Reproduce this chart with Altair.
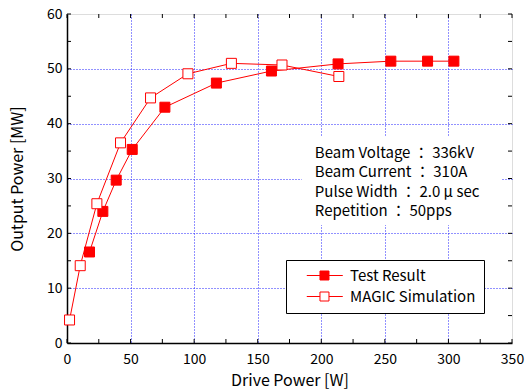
import altair as alt
import pandas as pd

# Test Result (filled squares)
test_x = [17.7, 28.2, 38.7, 51.3, 77.0, 117.5, 160.8, 213.2, 254.7, 283.6, 304.3]
test_y = [16.6, 24.0, 29.7, 35.3, 43.0, 47.4, 49.6, 50.9, 51.4, 51.4, 51.4]
# MAGIC Simulation (open squares)
magic_x = [2.0, 10.4, 23.5, 42.1, 65.7, 95.1, 129.3, 169.1, 213.8]
magic_y = [4.2, 14.1, 25.4, 36.5, 44.7, 49.1, 51.0, 50.7, 48.6]

series_names = ["Test Result", "MAGIC Simulation"]
x_ticks = [0, 50, 100, 150, 200, 250, 300, 350]
y_ticks = [0, 10, 20, 30, 40, 50, 60]
x_minor = list(range(0, 351, 25))
y_minor = list(range(0, 61, 5))

notes = ["Beam Voltage \uff1a 336kV", "Beam Current \uff1a 310A",
         "Pulse Width \uff1a 2.0 \u03bc sec", "Repetition \uff1a 50pps"]
note_y = [34.7, 31.1, 27.6, 24.1]

FONT = "Noto Sans CJK JP"
W, H = 445, 329

rows = []
for i, (x, y) in enumerate(zip(test_x, test_y)):
    rows.append({"series": series_names[0], "x": x, "y": y, "o": i})
for i, (x, y) in enumerate(zip(magic_x, magic_y)):
    rows.append({"series": series_names[1], "x": x, "y": y, "o": i})
df = pd.DataFrame(rows)

xs = alt.Scale(domain=[0, 350], nice=False, zero=False)
ys = alt.Scale(domain=[0, 60], nice=False, zero=False)

grid_hide = {"condition": {"test": "datum.value == 0 || datum.value == 350 || datum.value == 60", "value": 0}, "value": 1}

x_axis = alt.Axis(values=x_ticks, title="Drive Power [W]", tickSize=0, labelPadding=9,
                  labelFontSize=14, titleFontSize=16, titlePadding=6, labelFont=FONT, titleFont=FONT,
                  labelColor="black", titleColor="black", titleFontWeight="normal",
                  domainColor="black", domainWidth=1.5, grid=True, gridColor="#2222ff",
                  gridDash=[1, 2], gridWidth=1, gridOpacity=grid_hide, labelFlush=False)
y_axis = alt.Axis(values=y_ticks, title="Output Power [MW]", tickSize=0, labelPadding=5,
                  labelFontSize=14, titleFontSize=16, titlePadding=21, labelFont=FONT, titleFont=FONT,
                  labelColor="black", titleColor="black", titleFontWeight="normal",
                  domainColor="black", domainWidth=1.5, grid=True, gridColor="#2222ff",
                  gridDash=[1, 2], gridWidth=1, gridOpacity=grid_hide, labelFlush=False)

base = alt.Chart(df)

lines = base.mark_line(color="red", strokeWidth=1).encode(
    x=alt.X("x:Q", scale=xs, axis=x_axis),
    y=alt.Y("y:Q", scale=ys, axis=y_axis),
    detail="series:N",
    order="o:Q",
)

legend = alt.Legend(
    title=None, orient="none", legendX=219, legendY=246, direction="vertical",
    symbolType="M0.88,0H3.08M4.58,0H6.88M3.08,-0.75H4.58V0.75H3.08Z",
    symbolSize=144, symbolStrokeColor="red", symbolStrokeWidth=1,
    labelFont=FONT, labelFontSize=15, labelColor="black", labelOffset=41,
    rowPadding=5, padding=8, strokeColor="black", fillColor="white",
    labelExpr="datum.label + '\u00a0\u00a0\u00a0\u00a0\u00a0\u00a0\u00a0\u00a0\u00a0\u00a0\u00a0'",
)

points = base.mark_square(size=100, stroke="red", strokeWidth=1, opacity=1, fillOpacity=1).encode(
    x=alt.X("x:Q", scale=xs),
    y=alt.Y("y:Q", scale=ys),
    fill=alt.Fill("series:N", scale=alt.Scale(domain=series_names, range=["red", "white"]),
                  legend=legend, sort=series_names),
)

# inward ticks
tx = pd.DataFrame({"v": x_minor})
ty = pd.DataFrame({"v": y_minor})
tick_len_x = 4 / (H / 60)
tick_len_y = 4 / (W / 350)
bt = alt.Chart(tx).mark_rule(color="black", strokeWidth=1).encode(
    x=alt.X("v:Q", scale=xs), y=alt.datum(0, scale=ys), y2=alt.datum(tick_len_x))
tt = alt.Chart(tx).mark_rule(color="black", strokeWidth=1).encode(
    x=alt.X("v:Q", scale=xs), y=alt.datum(60, scale=ys), y2=alt.datum(60 - tick_len_x))
lt = alt.Chart(ty).mark_rule(color="black", strokeWidth=1).encode(
    y=alt.Y("v:Q", scale=ys), x=alt.datum(0, scale=xs), x2=alt.datum(tick_len_y))
rt = alt.Chart(ty).mark_rule(color="black", strokeWidth=1).encode(
    y=alt.Y("v:Q", scale=ys), x=alt.datum(350, scale=xs), x2=alt.datum(350 - tick_len_y))

box_df = pd.DataFrame({"x": [184.6], "x2": [342.0], "y": [21.5], "y2": [37.6]})
box = alt.Chart(box_df).mark_rect(fill="white").encode(
    x=alt.X("x:Q", scale=xs), x2="x2:Q", y=alt.Y("y:Q", scale=ys), y2="y2:Q")

note_df = pd.DataFrame({"t": notes, "y": note_y, "x": [194.9] * 4})
text = alt.Chart(note_df).mark_text(align="left", baseline="middle", font=FONT, fontSize=15,
                                    color="black").encode(
    x=alt.X("x:Q", scale=xs), y=alt.Y("y:Q", scale=ys), text="t:N")

chart = alt.layer(box, text, bt, tt, lt, rt, lines, points).properties(
    width=W, height=H,
    autosize=alt.AutoSizeParams(type="none"),
    padding={"left": 67, "top": 14, "right": 14, "bottom": 47},
).configure_view(stroke="black", strokeWidth=1.5).configure(background="white")

chart.save("out.html", embed_options={"renderer": "svg", "actions": False})
